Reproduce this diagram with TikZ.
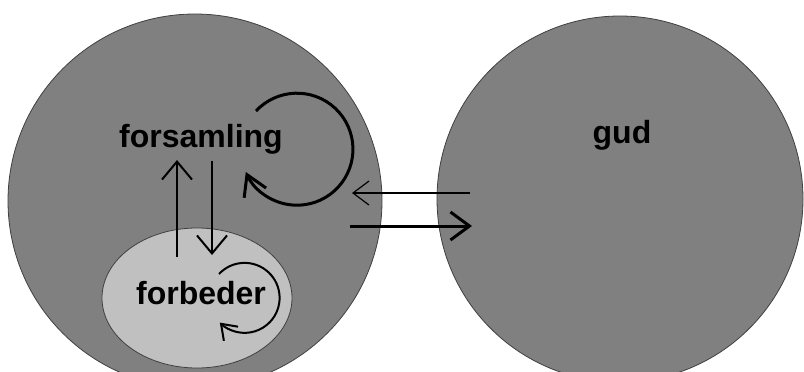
\documentclass[tikz,border=0pt]{standalone}
\usepackage{fontspec}
\setmainfont{Liberation Sans}
\usetikzlibrary{arrows.meta,shapes.geometric}
\definecolor{darkarea}{HTML}{808080}
\definecolor{lightarea}{HTML}{C0C0C0}
\tikzset{
  area/.style={ellipse,draw=black!75,line width=0.4pt,inner sep=0pt},
  word/.style={font=\bfseries\fontsize{16}{19}\selectfont,inner sep=0pt,anchor=base},
  vbarb/.style={-{Straight Barb[length=9pt,width=15pt]},line width=1pt},
  thinbarb/.style={-{Straight Barb[length=8pt,width=12pt]},line width=0.6pt},
  thickbarb/.style={-{Straight Barb[length=9.5pt,width=14pt]},line width=1.5pt},
}

\begin{document}
\begin{tikzpicture}[x=0.5pt,y=0.5pt]
  \useasboundingbox (0,0) rectangle (804,371);
  \clip (0,0) rectangle (804,371);
  \fill[white] (0,0) rectangle (804,371);
  \node[area,fill=darkarea,minimum width=187pt,minimum height=187pt] (forsamlingarea) at (195,170) {};
  \node[area,fill=darkarea,minimum width=183pt,minimum height=183pt] (gudarea) at (620,172) {};
  \node[area,fill=lightarea,minimum width=95pt,minimum height=70pt] (forbederarea) at (197,73) {};
  \node[word] (forsamling) at (201,224) {forsamling};
  \node[word] (gud) at (622,228) {gud};
  \node[word] (forbeder) at (201,67) {forbeder};
  \coordinate (opfra) at (177,114);
  \coordinate (optil) at (177,211);
  \coordinate (nedfra) at (212,210);
  \coordinate (nedtil) at (212,116);
  \draw[vbarb] (opfra) -- (optil);
  \draw[vbarb] (nedfra) -- (nedtil);
  \coordinate (gudfra) at (470,178);
  \coordinate (gudtil) at (352,178);
  \coordinate (menfra) at (350,145);
  \coordinate (mentil) at (472,145);
  \draw[thinbarb] (gudfra) -- (gudtil);
  \draw[thickbarb] (menfra) -- (mentil);
  \coordinate (storloop) at (256,260);
  \coordinate (lilleloop) at (219,97);
  \draw[-{Straight Barb[length=10pt,width=12pt]},line width=1.5pt]
    (storloop) arc[start angle=137,end angle=-156,radius=28pt];
  \draw[-{Straight Barb[length=7pt,width=10pt]},line width=1pt]
    (lilleloop) arc[start angle=137,end angle=-135,radius=17.5pt];
\end{tikzpicture}
\end{document}
